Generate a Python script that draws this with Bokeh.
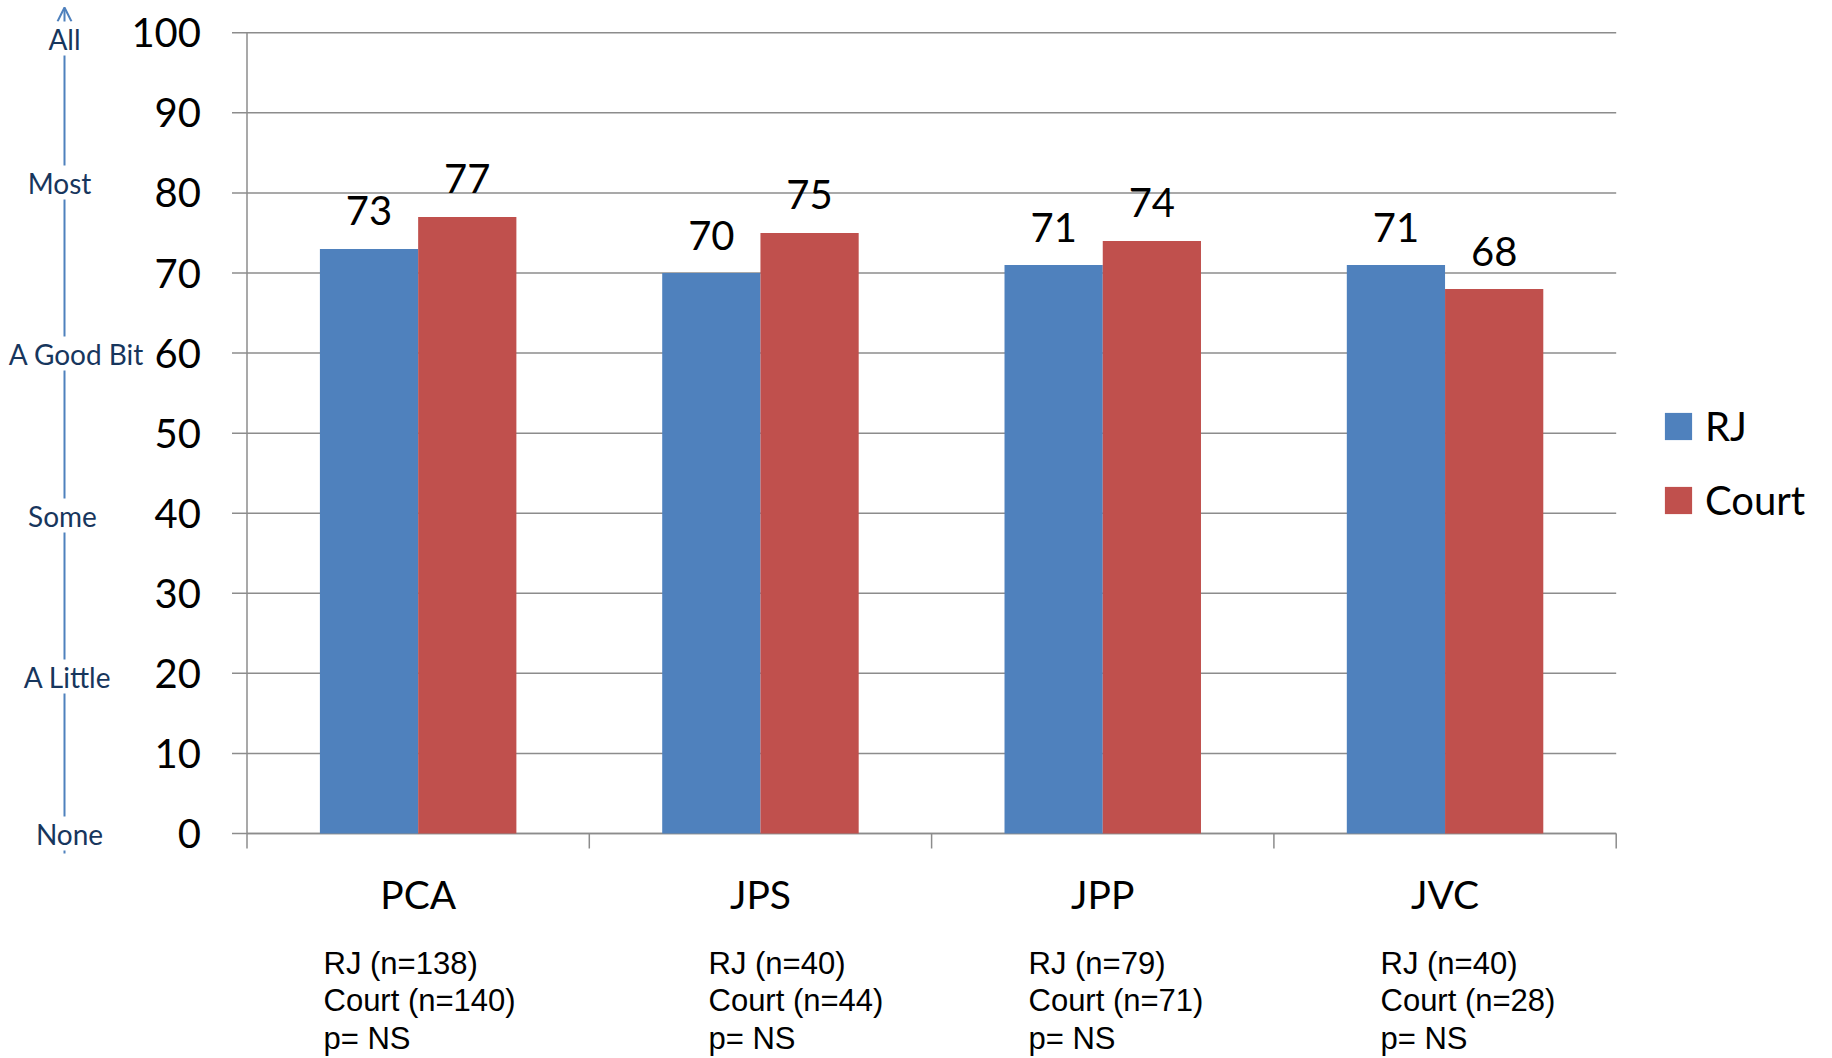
from bokeh.plotting import figure
from bokeh.models import (Range1d, ColumnDataSource, Legend, LegendItem, Label,
                          Arrow, OpenHead)
from bokeh.transform import dodge
from bokeh.core.properties import value
from bokeh.embed import file_html
from bokeh.resources import INLINE

# ---------------- data ----------------
categories = ["PCA", "JPS", "JPP", "JVC"]
series_names = ["RJ", "Court"]
rj_values = [73, 70, 71, 71]
court_values = [77, 75, 74, 68]
rj_n = [138, 40, 79, 40]
court_n = [140, 44, 71, 28]
p_values = ["NS", "NS", "NS", "NS"]
y_ticks = [0, 10, 20, 30, 40, 50, 60, 70, 80, 90, 100]
scale_labels = ["All", "Most", "A Good Bit", "Some", "A Little", "None"]

# ---------------- style / layout ----------------
BLUE = "#4F81BD"
RED = "#C0504D"
GRID = "#8C8C8C"
NAVY = "#17365D"
FONT = "Lato"
NOTE_FONT = "Liberation Sans"

W, H = 1830, 1056
X0, UX = 246.5, 342.3      # canvas px of x=0, px per category slot
Y0, UY = 833.0, 8.007      # canvas px of y=0, px per y unit
n = len(categories)


def dx(px):
    return (px - X0) / UX


def dy(py):
    return (Y0 - py) / UY


p = figure(x_range=Range1d(dx(0), dx(W)), y_range=Range1d(dy(H), dy(0)),
           width=W, height=H, min_border=0, min_border_left=0,
           min_border_right=0, min_border_top=0, min_border_bottom=0,
           x_axis_location=None, y_axis_location=None,
           output_backend="svg", toolbar_location=None, tools="")
p.outline_line_color = None
p.xgrid.visible = False
p.ygrid.visible = False
p.background_fill_color = "white"
p.border_fill_color = "white"

# ---------------- value axis ----------------
ysrc = ColumnDataSource(dict(y=y_ticks, lbl=[str(t) for t in y_ticks]))
# grid lines across the plotting area
p.segment(x0=0, x1=n, y0="y", y1="y", source=ysrc, line_color=GRID,
          line_width=1.5)
# tick marks
p.segment(x0=dx(X0 - 15), x1=0, y0="y", y1="y", source=ysrc,
          line_color=GRID, line_width=1.5)
# axis line
p.segment(x0=[0], x1=[0], y0=[min(y_ticks)], y1=[max(y_ticks)],
          line_color=GRID, line_width=1.5)
# tick labels
p.text(x=0, y="y", text="lbl", source=ysrc, x_offset=-46,
       text_font=value(FONT), text_font_size="40px", text_color="black",
       text_align="right", text_baseline="middle")

# ---------------- category axis ----------------
bounds = list(range(n + 1))
centers = [i + 0.5 for i in range(n)]
p.segment(x0=[0], x1=[n], y0=[0], y1=[0], line_color=GRID, line_width=1.5)
p.segment(x0=bounds, x1=bounds, y0=0, y1=dy(Y0 + 15), line_color=GRID,
          line_width=1.5)
p.text(x=centers, y=0, text=categories, y_offset=60,
       text_font=value(FONT), text_font_size="39px", text_color="black",
       text_align="center", text_baseline="middle")

# ---------------- bars ----------------
BAR_W = 0.287
OFF = BAR_W / 2
src = ColumnDataSource(dict(
    pos=centers, cat=categories, rj=rj_values, court=court_values,
    rj_txt=[str(v) for v in rj_values],
    court_txt=[str(v) for v in court_values]))

r_rj = p.vbar(x=dodge("pos", -OFF), top="rj", width=BAR_W, bottom=0,
              source=src, fill_color=BLUE, line_color=None)
r_ct = p.vbar(x=dodge("pos", OFF), top="court", width=BAR_W, bottom=0,
              source=src, fill_color=RED, line_color=None)

for col, off in (("rj", -OFF), ("court", OFF)):
    p.text(x=dodge("pos", off), y=col, text=col + "_txt", source=src,
           text_font=value(FONT), text_font_size="40px",
           text_align="center", text_baseline="alphabetic", y_offset=-38,
           text_color="black")

# ---------------- legend ----------------
legend = Legend(items=[LegendItem(label=series_names[0], renderers=[r_rj]),
                       LegendItem(label=series_names[1], renderers=[r_ct])],
                location=(1661, H - 524), orientation="vertical",
                glyph_width=34, glyph_height=34, label_height=34,
                label_standoff=10, spacing=26, padding=0, margin=0,
                border_line_color=None, background_fill_alpha=0,
                label_text_font=FONT, label_text_font_size="40px",
                label_text_color="black")
p.add_layout(legend, "center")

# ---------------- sample-size notes ----------------
note_left = [323, 708, 1028, 1380]
note_base = [962.5, 1000, 1037.5]
for j in range(3):
    if j == 0:
        lines = ["RJ (n=%d)" % v for v in rj_n]
    elif j == 1:
        lines = ["Court (n=%d)" % v for v in court_n]
    else:
        lines = ["p= %s" % v for v in p_values]
    p.text(x=[dx(v) for v in note_left], y=dy(note_base[j]), text=lines,
           text_font=value(NOTE_FONT), text_font_size="31px",
           text_color="black", text_align="left",
           text_baseline="alphabetic")

# ---------------- qualitative scale arrow ----------------
arrow_x = dx(64)
p.add_layout(Arrow(end=OpenHead(size=14, line_color=BLUE, line_width=2),
                   x_start=arrow_x, y_start=dy(853),
                   x_end=arrow_x, y_end=dy(7),
                   line_color=BLUE, line_width=2))
scale_x = [64, 59, 76, 62, 67, 69]
scale_y = [38, 182, 353, 515, 676, 833]
for txt, sx, sy in zip(scale_labels, scale_x, scale_y):
    p.add_layout(Label(x=dx(sx), y=dy(sy), text=txt, text_font=FONT,
                       text_font_size="28px", text_align="center",
                       text_baseline="middle", text_color=NAVY,
                       background_fill_color="white"))

open("out.html", "w").write(file_html(p, INLINE))
